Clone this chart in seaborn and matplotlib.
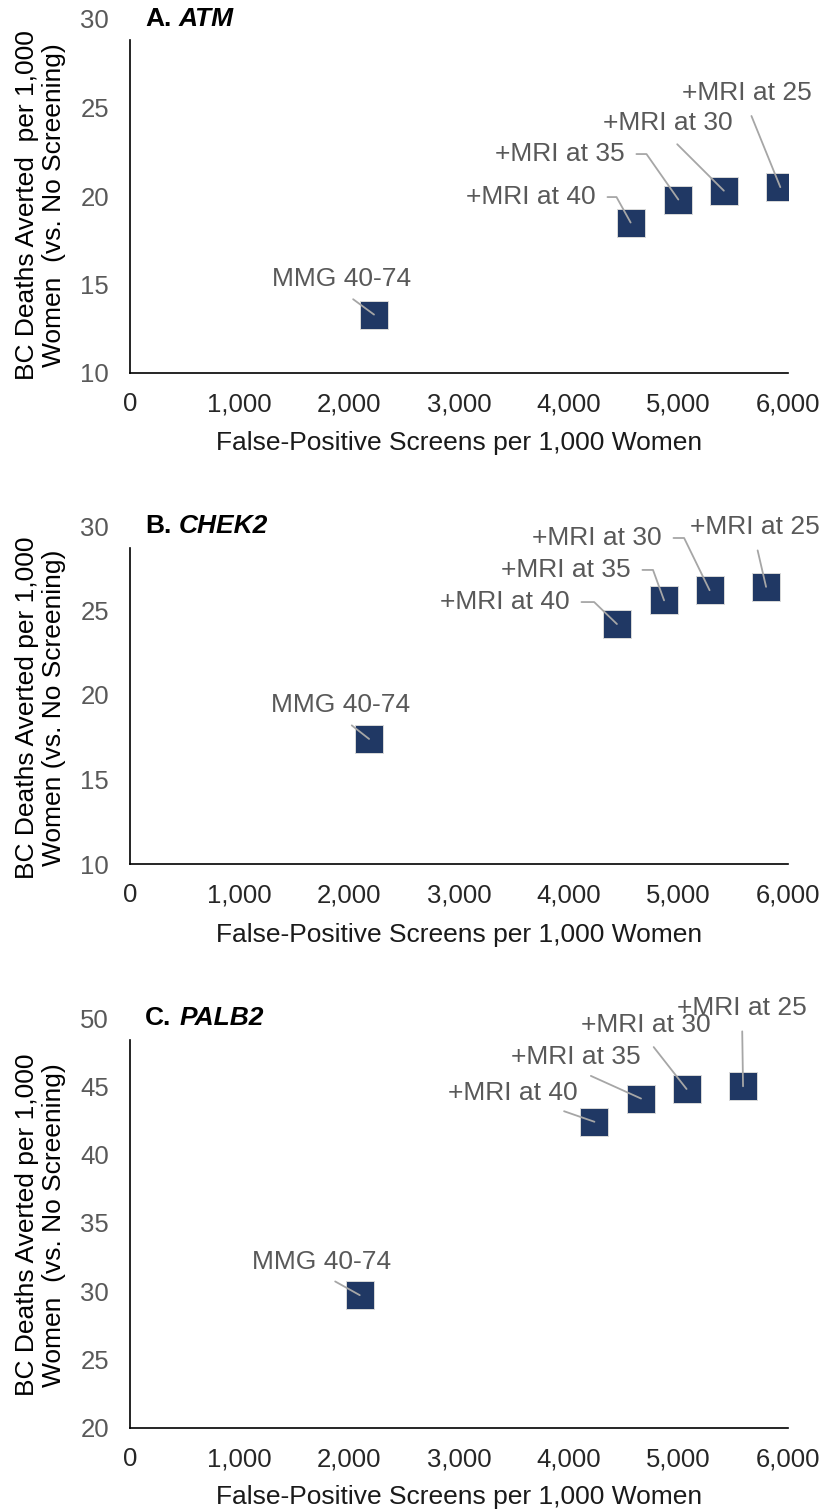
import matplotlib
matplotlib.use("Agg")
import matplotlib.pyplot as plt
import seaborn as sns
import pandas as pd

# screening strategies, same order in every panel
strategies = ["MMG 40-74", "+MRI at 40", "+MRI at 35", "+MRI at 30", "+MRI at 25"]

genes = ["ATM", "CHEK2", "PALB2"]
letters = ["A.", "B.", "C."]

# false-positive screens per 1,000 women
atm_fp = [2225, 4565, 5000, 5415, 5930]
chek2_fp = [2180, 4440, 4870, 5285, 5800]
palb2_fp = [2095, 4235, 4660, 5075, 5590]

# BC deaths averted per 1,000 women (vs. no screening)
atm_deaths = [13.3, 18.5, 19.8, 20.3, 20.5]
chek2_deaths = [17.4, 24.2, 25.6, 26.2, 26.4]
palb2_deaths = [29.7, 42.4, 44.1, 44.8, 45.0]

x_ticks = [0, 1000, 2000, 3000, 4000, 5000, 6000]
atm_yticks = [10, 15, 20, 25, 30]
chek2_yticks = [10, 15, 20, 25, 30]
palb2_yticks = [20, 25, 30, 35, 40, 45, 50]

ylabels = ["BC Deaths Averted  per 1,000\nWomen  (vs. No Screening)",
           "BC Deaths Averted per 1,000\nWomen (vs. No Screening)",
           "BC Deaths Averted per 1,000\nWomen  (vs. No Screening)"]
xlabel = "False-Positive Screens per 1,000 Women"

panels = [
    (atm_fp, atm_deaths, atm_yticks),
    (chek2_fp, chek2_deaths, chek2_yticks),
    (palb2_fp, palb2_deaths, palb2_yticks),
]

# ---- layout (pixels on the 821x1510 canvas) ----
W, H = 821, 1510
ax_px = [(130, 19, 788, 373), (130, 526, 788, 864), (130, 1018, 788, 1427.6)]
spine_tops = [28.8, 28.7, 48.4]
ylabel_cy = [205, 708, 1225]
xlabel_cy = [443, 935, 1497]

# label placement: text centre (data), leader style
# ("s", relx) -> straight line from bottom of label, ("e", angle) -> elbow from right side
label_pos = [
    [(1933, 15.31, "s", 0.5), (3657, 19.94, "e", -61), (3921, 22.37, "e", -55),
     (4906, 24.12, "s", 0.5), (5626, 25.82, "s", 0.5)],
    [(1924, 19.41, "s", 0.5), (3420, 25.50, "e", -44), (3976, 27.40, "e", -70),
     (4259, 29.29, "e", -64), (5699, 29.94, "s", 0.5)],
    [(1751, 32.12, "s", 0.5), (3493, 44.49, "s", 0.76), (4067, 47.13, "s", 0.5),
     (4705, 49.47, "s", 0.5), (5581, 50.75, "s", 0.5)],
]

navy = "#203864"
grey_txt = "#595959"
lead_col = "#A6A6A6"

sns.set_theme(style="white")
plt.rcParams["font.family"] = ["Liberation Sans", "DejaVu Sans"]

fig = plt.figure(figsize=(W / 100, H / 100), dpi=100)

for i, (fp, deaths, yticks) in enumerate(panels):
    l, t, r, b = ax_px[i]
    ax = fig.add_axes([l / W, 1 - b / H, (r - l) / W, (b - t) / H])
    df = pd.DataFrame({"fp": fp, "deaths": deaths, "strategy": strategies})

    sns.scatterplot(data=df, x="fp", y="deaths", marker="s", s=420, color=navy,
                    edgecolor="#D9D9D9", linewidth=0.7, ax=ax, zorder=2, legend=False)

    ax.set_xlim(x_ticks[0], x_ticks[-1])
    ax.set_ylim(yticks[0], yticks[-1])
    ax.set_xticks(x_ticks)
    ax.set_xticklabels([f"{v:,}" for v in x_ticks])
    ax.set_yticks(yticks)
    ax.tick_params(axis="x", length=0, pad=14, labelsize=18.5, labelcolor="#262626")
    ax.tick_params(axis="y", length=0, pad=15, labelsize=18.5, labelcolor=grey_txt)

    for side in ["top", "right"]:
        ax.spines[side].set_visible(False)
    for side in ["left", "bottom"]:
        ax.spines[side].set_color("black")
        ax.spines[side].set_linewidth(1.2)
    ax.spines["left"].set_bounds(yticks[0], spine_tops[i])

    ax.set_xlabel(xlabel, fontsize=19, color="#1a1a1a", va="center")
    ax.xaxis.set_label_coords(0.5, -(xlabel_cy[i] - b) / (b - t))
    ax.set_ylabel("")
    fig.text(40.5 / W, 1 - ylabel_cy[i] / H, ylabels[i], rotation=90, ha="center",
             va="center", multialignment="center", fontsize=19, color="black",
             linespacing=1.2)

    # panel title: bold letter + bold italic gene
    t1 = ax.text(137, yticks[-1], letters[i], fontsize=19, fontweight="bold",
                 color="black", va="center", ha="left")
    ax.annotate(genes[i], xy=(1, 0), xycoords=t1, xytext=(5.5, 0),
                textcoords="offset points", va="bottom", ha="left", fontsize=19,
                fontweight="bold", fontstyle="italic", color="black")

    # data labels with leader lines
    for j, name in enumerate(strategies):
        tx, ty, kind, val = label_pos[i][j]
        if kind == "e":
            props = dict(arrowstyle="-", color=lead_col, lw=1.3, shrinkA=6, shrinkB=0,
                         relpos=(1, 0.5),
                         connectionstyle=f"angle,angleA=0,angleB={val},rad=0")
        else:
            props = dict(arrowstyle="-", color=lead_col, lw=1.3, shrinkA=6, shrinkB=0,
                         relpos=(val, 0), connectionstyle="arc3")
        ax.annotate(name, xy=(fp[j], deaths[j]), xytext=(tx, ty), textcoords="data",
                    ha="center", va="center", fontsize=19, color=grey_txt,
                    arrowprops=props, annotation_clip=False, zorder=3)

fig.savefig("out.png", dpi=100)
